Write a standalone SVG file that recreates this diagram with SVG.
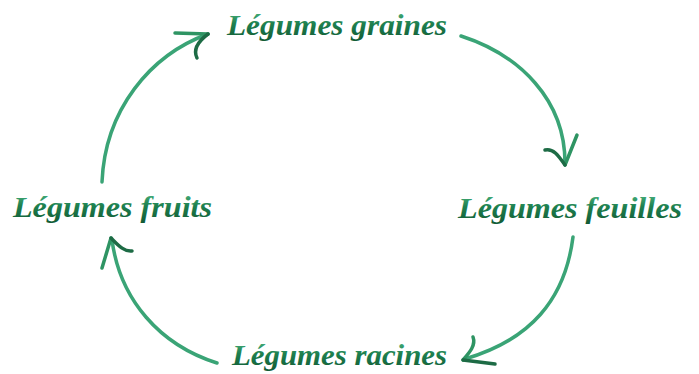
<svg xmlns="http://www.w3.org/2000/svg" width="699" height="374" viewBox="0 0 699 374">
<defs>
<linearGradient id="tg" x1="0" y1="0" x2="0" y2="1">
<stop offset="0" stop-color="#4fb985"/>
<stop offset="0.45" stop-color="#1f8150"/>
<stop offset="1" stop-color="#125a34"/>
</linearGradient>
<style>
.lbl{font-family:"Liberation Serif","DejaVu Serif",serif;font-style:italic;font-weight:bold;font-size:29px;fill:url(#tg);}
.arc{fill:none;stroke:#3aa476;stroke-width:3.5;stroke-linecap:round;}
.head{fill:none;stroke:#2e9463;stroke-width:3.5;stroke-linecap:round;stroke-linejoin:round;}
.headd{fill:none;stroke:#1d6b45;stroke-width:3.5;stroke-linecap:round;}
</style>
</defs>
<rect width="699" height="374" fill="#ffffff"/>
<g id="connectors">
<g id="c1">
<path class="arc" d="M102,182 C105,110 150,55 208,34"/>
<path class="head" d="M175,33 L208,34"/>
<path class="headd" d="M208,34 C200,40 192,48 197,58"/>
</g>
<g id="c2">
<path class="arc" d="M461,36 C520,55 565,100 565,163"/>
<path class="head" d="M577,135 L565,165"/>
<path class="headd" d="M545,150 C553,148 558,155 565,165"/>
</g>
<g id="c3">
<path class="arc" d="M573,237 C565,300 530,340 465,359"/>
<path class="head" d="M473,337 C476,345 470,352 463,360"/>
<path class="headd" d="M463,360 L495,364"/>
</g>
<g id="c4">
<path class="arc" d="M217,363 C160,345 120,300 112,240"/>
<path class="head" d="M102,268 L111,238"/>
<path class="headd" d="M111,238 C118,245 124,252 132,251"/>
</g>
</g>
<g id="n-graines"><text class="lbl" x="227" y="35" textLength="220" lengthAdjust="spacingAndGlyphs">Légumes graines</text></g>
<g id="n-feuilles"><text class="lbl" x="458" y="218" textLength="224" lengthAdjust="spacingAndGlyphs">Légumes feuilles</text></g>
<g id="n-racines"><text class="lbl" x="232" y="365" textLength="215" lengthAdjust="spacingAndGlyphs">Légumes racines</text></g>
<g id="n-fruits"><text class="lbl" x="13" y="217" textLength="199" lengthAdjust="spacingAndGlyphs">Légumes fruits</text></g>
</svg>
